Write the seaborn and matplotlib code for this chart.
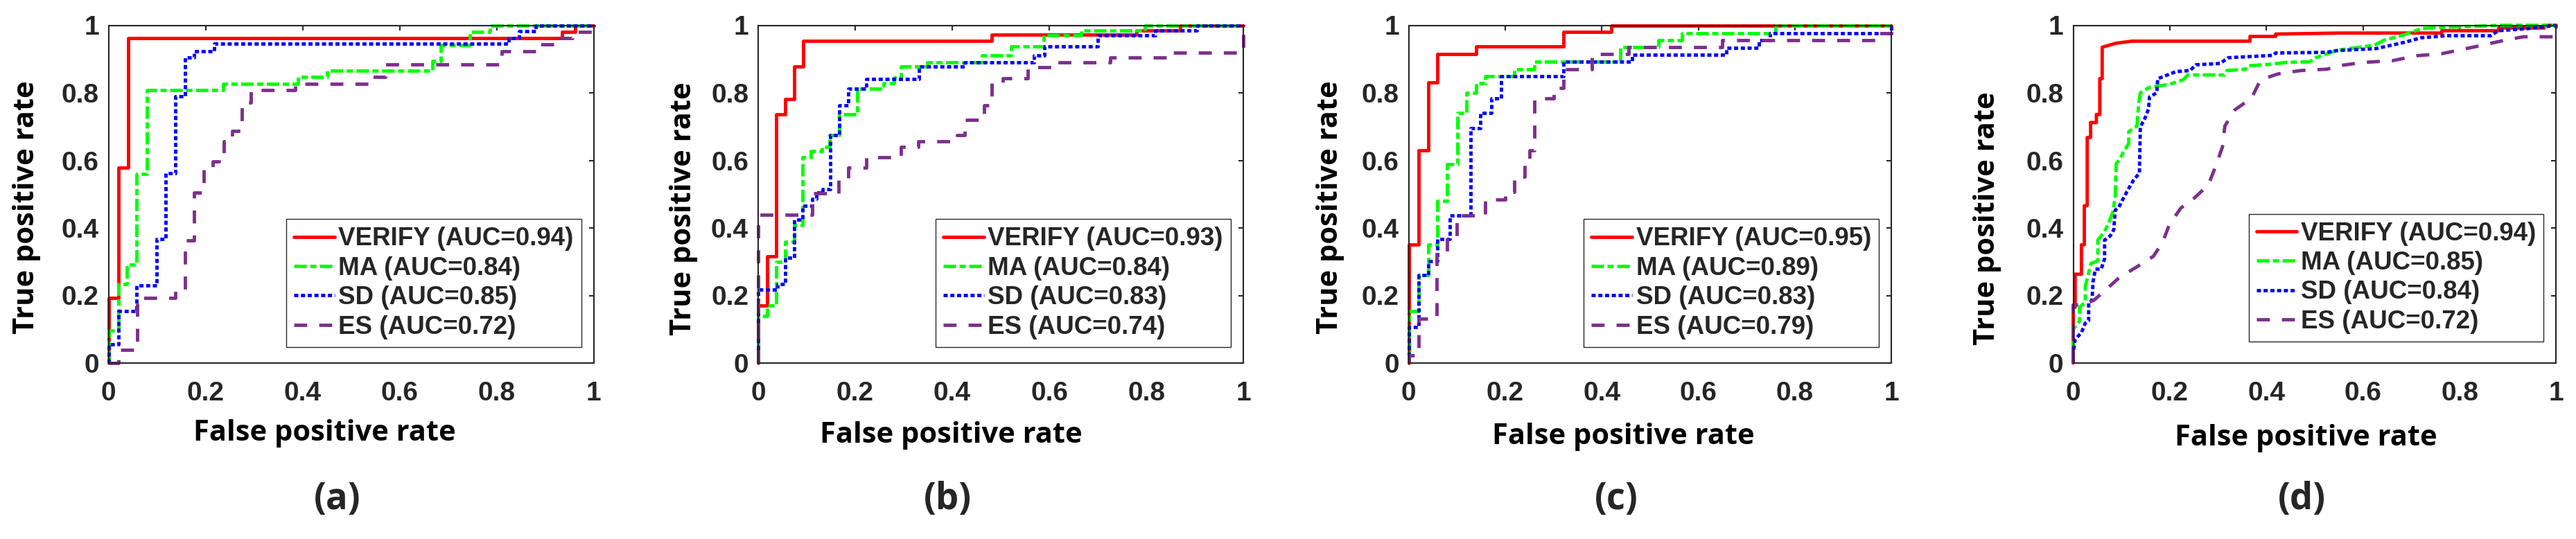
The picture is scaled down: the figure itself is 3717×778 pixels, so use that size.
import numpy as np
import pandas as pd
import matplotlib
matplotlib.use('Agg')
import matplotlib.pyplot as plt
import seaborn as sns

# ROC points: fpr / tpr per method and panel
# panel (a)
verify_a_fpr = [0, 0, 0.02, 0.04, 0.935, 0.962, 1.0]
verify_a_tpr = [0, 0.193, 0.579, 0.962, 0.981, 1.0, 1.0]
ma_a_fpr = [0, 0, 0.02, 0.038, 0.057, 0.079, 0.236, 0.39, 0.45, 0.668, 0.684, 0.744, 0.786, 1.0]
ma_a_tpr = [0, 0.097, 0.234, 0.292, 0.559, 0.808, 0.827, 0.847, 0.866, 0.895, 0.941, 0.98, 1.0, 1.0]
sd_a_fpr = [0, 0, 0.02, 0.057, 0.099, 0.118, 0.137, 0.157, 0.176, 0.217, 0.824, 0.846, 0.88, 1.0]
sd_a_tpr = [0, 0.056, 0.153, 0.23, 0.367, 0.562, 0.789, 0.904, 0.924, 0.945, 0.963, 0.982, 1.0, 1.0]
es_a_fpr = [0, 0.021, 0.059, 0.137, 0.157, 0.176, 0.196, 0.215, 0.227, 0.238, 0.255, 0.275,
            0.293, 0.385, 0.54, 0.57, 0.81, 0.88, 0.93, 0.956, 1.0]
es_a_tpr = [0, 0.038, 0.193, 0.213, 0.364, 0.504, 0.579, 0.596, 0.61, 0.656, 0.687, 0.771,
            0.808, 0.827, 0.847, 0.885, 0.923, 0.943, 0.962, 0.981, 1.0]

# panel (b)
verify_b_fpr = [0, 0, 0.018, 0.037, 0.056, 0.074, 0.093, 0.481, 0.78, 0.87, 1.0]
verify_b_tpr = [0, 0.171, 0.315, 0.736, 0.782, 0.877, 0.953, 0.972, 0.984, 1.0, 1.0]
ma_b_fpr = [0, 0, 0.018, 0.037, 0.056, 0.074, 0.092, 0.108, 0.132, 0.147, 0.167, 0.204, 0.259,
            0.28, 0.294, 0.349, 0.461, 0.521, 0.589, 0.666, 0.797, 1.0]
ma_b_tpr = [0, 0.14, 0.171, 0.299, 0.36, 0.408, 0.61, 0.627, 0.64, 0.675, 0.736, 0.812, 0.829,
            0.846, 0.877, 0.89, 0.91, 0.938, 0.971, 0.984, 1.0, 1.0]
sd_b_fpr = [0, 0, 0.04, 0.055, 0.074, 0.092, 0.111, 0.12, 0.133, 0.148, 0.167, 0.185, 0.223,
            0.332, 0.425, 0.568, 0.59, 0.70, 0.819, 0.904, 1.0]
sd_b_tpr = [0, 0.217, 0.233, 0.312, 0.425, 0.466, 0.487, 0.504, 0.514, 0.675, 0.764, 0.812, 0.842,
            0.877, 0.89, 0.91, 0.938, 0.97, 0.984, 1.0, 1.0]
es_b_fpr = [0, 0, 0.111, 0.166, 0.185, 0.223, 0.294, 0.33, 0.41, 0.425, 0.466, 0.482, 0.504,
            0.555, 0.606, 0.725, 0.853, 1.0]
es_b_tpr = [0, 0.439, 0.502, 0.548, 0.579, 0.61, 0.64, 0.656, 0.675, 0.72, 0.764, 0.829, 0.844,
            0.875, 0.89, 0.905, 0.92, 1.0]

# panel (c)
verify_c_fpr = [0, 0, 0.0206, 0.04, 0.06, 0.14, 0.321, 0.42, 1.0]
verify_c_tpr = [0, 0.35, 0.63, 0.83, 0.914, 0.937, 0.98, 1.0, 1.0]
ma_c_fpr = [0, 0, 0.0206, 0.04, 0.06, 0.08, 0.101, 0.12, 0.14, 0.159, 0.219, 0.26, 0.439,
            0.518, 0.566, 0.76, 1.0]
ma_c_tpr = [0, 0.153, 0.261, 0.35, 0.48, 0.589, 0.74, 0.80, 0.829, 0.849, 0.87, 0.892, 0.935,
            0.956, 0.977, 1.0, 1.0]
sd_c_fpr = [0, 0, 0.0206, 0.04, 0.06, 0.085, 0.128, 0.149, 0.171, 0.192, 0.32, 0.463, 0.658,
            0.726, 0.748, 1.0]
sd_c_tpr = [0, 0.107, 0.261, 0.302, 0.367, 0.436, 0.695, 0.74, 0.784, 0.849, 0.892, 0.912, 0.934,
            0.956, 0.977, 1.0]
es_c_fpr = [0, 0, 0.0206, 0.058, 0.08, 0.1, 0.159, 0.2, 0.219, 0.24, 0.25, 0.26, 0.30, 0.32,
            0.379, 0.455, 0.65, 0.975, 1.0]
es_c_tpr = [0, 0.022, 0.131, 0.33, 0.371, 0.436, 0.484, 0.507, 0.552, 0.6, 0.629, 0.784, 0.815,
            0.87, 0.914, 0.935, 0.956, 0.977, 1.0]

# panel (d)  (many small steps, listed as vertices)
verify_d_fpr = [0, 0, 0.004, 0.004, 0.017, 0.017, 0.023, 0.023, 0.029, 0.029, 0.036, 0.036,
                0.048, 0.048, 0.055, 0.055, 0.06, 0.06, 0.089, 0.122, 0.366, 0.366, 0.419,
                0.419, 0.55, 0.763, 0.763, 0.881, 0.881, 0.975, 0.975, 1.0]
verify_d_tpr = [0, 0.165, 0.165, 0.263, 0.263, 0.35, 0.35, 0.466, 0.466, 0.668, 0.668, 0.712,
                0.712, 0.736, 0.736, 0.842, 0.842, 0.935, 0.947, 0.953, 0.953, 0.967, 0.967,
                0.974, 0.977, 0.977, 0.984, 0.984, 0.992, 0.992, 1.0, 1.0]
ma_d_fpr = [0, 0, 0.013, 0.013, 0.025, 0.025, 0.037, 0.051, 0.051, 0.065, 0.072, 0.082, 0.087,
            0.089, 0.096, 0.106, 0.115, 0.115, 0.132, 0.136, 0.139, 0.156, 0.17, 0.199, 0.228,
            0.237, 0.314, 0.318, 0.357, 0.361, 0.404, 0.44, 0.49, 0.502, 0.547, 0.623, 0.644,
            0.686, 0.72, 0.763, 0.89, 1.0]
ma_d_tpr = [0, 0.10, 0.124, 0.165, 0.18, 0.227, 0.295, 0.302, 0.364, 0.39, 0.41, 0.446, 0.494,
            0.59, 0.603, 0.63, 0.65, 0.685, 0.702, 0.774, 0.80, 0.815, 0.819, 0.825, 0.839,
            0.853, 0.853, 0.866, 0.87, 0.88, 0.884, 0.89, 0.892, 0.904, 0.926, 0.941, 0.956,
            0.972, 0.99, 0.994, 1.0, 1.0]
sd_d_fpr = [0, 0, 0.004, 0.017, 0.025, 0.032, 0.032, 0.039, 0.041, 0.046, 0.058, 0.065, 0.065,
            0.077, 0.084, 0.087, 0.094, 0.101, 0.111, 0.125, 0.137, 0.139, 0.149, 0.156, 0.158,
            0.173, 0.175, 0.19, 0.213, 0.242, 0.254, 0.304, 0.321, 0.361, 0.414, 0.419, 0.525,
            0.545, 0.627, 0.687, 0.72, 0.771, 0.864, 0.88, 0.94, 1.0]
sd_d_tpr = [0, 0.029, 0.07, 0.09, 0.118, 0.125, 0.179, 0.186, 0.24, 0.278, 0.278, 0.309, 0.364,
            0.377, 0.395, 0.453, 0.46, 0.48, 0.507, 0.542, 0.562, 0.699, 0.726, 0.753, 0.788,
            0.80, 0.842, 0.85, 0.863, 0.866, 0.883, 0.887, 0.904, 0.907, 0.911, 0.918, 0.92,
            0.925, 0.931, 0.95, 0.963, 0.969, 0.969, 0.984, 0.99, 1.0]
es_d_fpr = [0, 0, 0.018, 0.043, 0.07, 0.096, 0.132, 0.166, 0.185, 0.199, 0.223, 0.252, 0.28,
            0.295, 0.309, 0.314, 0.335, 0.369, 0.388, 0.424, 0.471, 0.525, 0.559, 0.60, 0.66,
            0.712, 0.763, 0.797, 0.847, 0.894, 0.932, 1.0, 1.0]
es_d_tpr = [0, 0.172, 0.172, 0.186, 0.22, 0.254, 0.285, 0.316, 0.357, 0.41, 0.459, 0.49, 0.528,
            0.583, 0.64, 0.702, 0.75, 0.784, 0.839, 0.856, 0.866, 0.87, 0.882, 0.89, 0.895,
            0.91, 0.916, 0.926, 0.941, 0.956, 0.966, 0.966, 1.0]

methods = ['VERIFY', 'MA', 'SD', 'ES']
auc_a = [0.94, 0.84, 0.85, 0.72]
auc_b = [0.93, 0.84, 0.83, 0.74]
auc_c = [0.95, 0.89, 0.83, 0.79]
auc_d = [0.94, 0.85, 0.84, 0.72]
panel_tags = ['(a)', '(b)', '(c)', '(d)']
tick_vals = [0, 0.2, 0.4, 0.6, 0.8, 1]
tick_text = ['0', '0.2', '0.4', '0.6', '0.8', '1']

panels = [
    ([(verify_a_fpr, verify_a_tpr), (ma_a_fpr, ma_a_tpr), (sd_a_fpr, sd_a_tpr), (es_a_fpr, es_a_tpr)], auc_a),
    ([(verify_b_fpr, verify_b_tpr), (ma_b_fpr, ma_b_tpr), (sd_b_fpr, sd_b_tpr), (es_b_fpr, es_b_tpr)], auc_b),
    ([(verify_c_fpr, verify_c_tpr), (ma_c_fpr, ma_c_tpr), (sd_c_fpr, sd_c_tpr), (es_c_fpr, es_c_tpr)], auc_c),
    ([(verify_d_fpr, verify_d_tpr), (ma_d_fpr, ma_d_tpr), (sd_d_fpr, sd_d_tpr), (es_d_fpr, es_d_tpr)], auc_d),
]

colours = {'VERIFY': '#ff0000', 'MA': '#00ff00', 'SD': '#0000ff', 'ES': '#7e2f8e'}
styles = {'VERIFY': '-', 'MA': (0, (13, 3.6, 6.5, 3.6)), 'SD': (0, (4.3, 2.7)),
          'ES': (0, (13.5, 12.5))}

sns.set_theme(style='white')
plt.rcParams['font.family'] = ['Liberation Sans', 'DejaVu Sans']
plt.rcParams['lines.scale_dashes'] = False
plt.rcParams['axes.edgecolor'] = '#262626'
plt.rcParams['axes.linewidth'] = 1.5

W, H = 3717, 778
fig = plt.figure(figsize=(W / 100, H / 100), dpi=100)

# layout in pixels (left edge, width) and label placement per panel
lefts = [156.7, 1094, 2032.7, 2991.5]
widths = [700, 700, 696.5, 697]
ax_bottom, ax_height = 524, 487.5
xlab_x = [0.445, 0.397, 0.445, 0.482]
xlab_y = [-0.23, -0.235, -0.24, -0.245]
ylab_x = [-0.139, -0.124, -0.133, -0.148]
ylab_y = [0.462, 0.457, 0.462, 0.429]
tag_x = [0.471, 0.391, 0.43, 0.473]
leg_y = [0.048, 0.048, 0.048, 0.064]

for i, (curves, aucs) in enumerate(panels):
    ax = fig.add_axes([lefts[i] / W, (H - ax_bottom) / H, widths[i] / W, ax_height / H])
    steps = i < 3
    for m, (fpr, tpr), auc in zip(methods, curves, aucs):
        df = pd.DataFrame({'fpr': fpr, 'tpr': tpr})
        sns.lineplot(data=df, x='fpr', y='tpr', ax=ax, sort=False, estimator=None,
                     color=colours[m], linestyle=styles[m], linewidth=3.5,
                     drawstyle='steps-post' if steps else 'default',
                     label=f'{m} (AUC={auc:.2f})', clip_on=False)

    ax.set_xlim(0, 1)
    ax.set_ylim(0, 1)
    ax.set_xticks(tick_vals)
    ax.set_yticks(tick_vals)
    ax.set_xticklabels(tick_text)
    ax.set_yticklabels(tick_text)
    ax.tick_params(direction='in', top=True, right=True, length=5, width=1.5,
                   color='#262626', labelcolor='#262626', labelsize=28)
    ax.tick_params(axis='x', pad=19)
    ax.tick_params(axis='y', pad=10)
    for lab in ax.get_xticklabels() + ax.get_yticklabels():
        lab.set_fontweight('bold')
    for sp in ax.spines.values():
        sp.set_visible(True)
        sp.set_color('#262626')
        sp.set_linewidth(1.5)

    ax.set_xlabel('False positive rate', fontsize=30, fontweight='bold',
                  family='Open Sans', color='black')
    ax.xaxis.set_label_coords(xlab_x[i], xlab_y[i])
    ax.xaxis.label.set_verticalalignment('baseline')
    ax.set_ylabel('True positive rate', fontsize=30, fontweight='bold',
                  family='Open Sans', color='black')
    ax.yaxis.set_label_coords(ylab_x[i], ylab_y[i])

    ax.text(tag_x[i], -0.404, panel_tags[i], transform=ax.transAxes, ha='center',
            va='center', fontsize=38, fontweight='bold', family='Open Sans')

    leg = ax.legend(loc='lower right', bbox_to_anchor=(0.974, leg_y[i]),
                    prop={'family': 'Liberation Sans', 'weight': 'bold', 'size': 26.5},
                    frameon=True, fancybox=False, framealpha=1, edgecolor='#262626',
                    borderpad=0.3, labelspacing=0.2, handlelength=1.6,
                    handletextpad=0.15, borderaxespad=0)
    leg.get_frame().set_linewidth(1.0)

fig.savefig('out.png', dpi=100, facecolor='white')
